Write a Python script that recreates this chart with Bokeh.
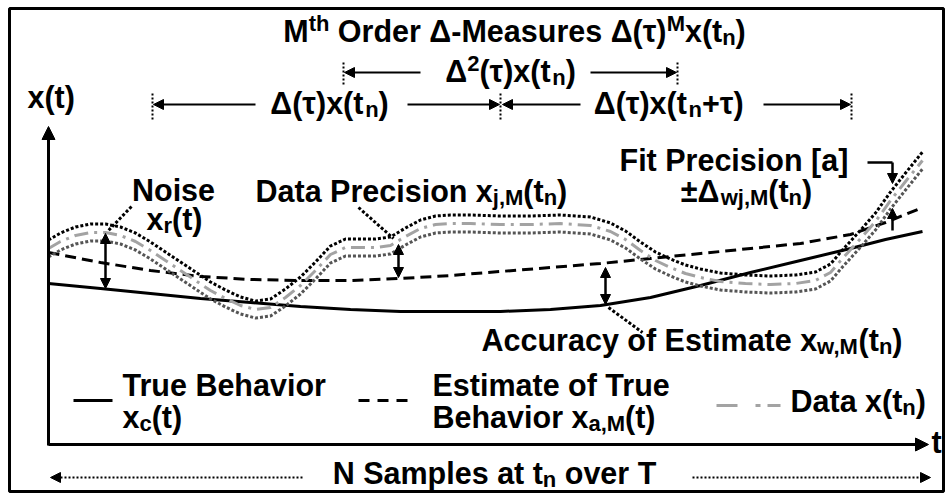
from bokeh.plotting import figure
from bokeh.models import ColumnDataSource, Range1d, Arrow, NormalHead
from bokeh.core.properties import value, field
from bokeh.embed import file_html
from bokeh.resources import INLINE

# ---------------- data (diagram coordinates: t to the right, x(t) drawn on a reversed scale) ----------
DATA_T = [48, 60, 75, 90, 105, 120, 135, 150, 165, 180, 195, 210, 225, 240, 255, 270, 285, 300,
          315, 330, 345, 360, 375, 390, 405, 420, 435, 450, 470, 500, 530, 560, 590, 610, 625,
          640, 655, 670, 685, 700, 720, 745, 770, 795, 815, 830, 842, 852, 862, 875, 890, 905, 922]
DATA_X = [248, 241, 235, 232, 232, 235, 241, 250, 260, 270, 280, 290, 298, 305, 309, 307, 297, 285,
          270, 254, 247, 247, 247, 245, 236, 228, 224, 223, 223, 224, 224, 223, 225, 231, 239,
          250, 260, 267, 273, 277, 281, 283, 284, 283, 280, 272, 258, 247, 236, 221, 200, 181, 160]
PRECISION = 8.5

CURVE_T = [48, 100, 150, 200, 250, 300, 350, 400, 450, 500, 550, 600, 650, 700, 750, 800, 850, 885, 922]
TRUE_X = [283, 288, 293, 298, 302, 306, 309, 311, 311, 311, 309, 305, 297, 285, 272, 260, 248, 239, 231]
EST_X = [252, 262, 270, 276, 279, 280, 280, 278, 275, 271, 267, 263, 258, 253, 248, 243, 234, 222, 207]

FS = 30.5
SUB = 0.72
BASE_SHIFT = -11
N, SB, SP = "n", "sub", "sup"

TITLE = [("M", N), ("th", SP), (" Order \u0394-Measures \u0394(\u03c4)", N), ("M", SP), ("x(t", N), ("n", SB), (")", N)]
D2 = [("\u0394", N), ("2", SP), ("(\u03c4)x(t", N), ("n", SB), (")", N)]
D1 = [("\u0394(\u03c4)x(t", N), ("n", SB), (")", N)]
D1B = [("\u0394(\u03c4)x(t", N), ("n", SB), ("+\u03c4)", N)]
XT = [("x(t)", N)]
TL = [("t", N)]
NOISE1 = [("Noise", N)]
NOISE2 = [("x", N), ("r", SB), ("(t)", N)]
DP = [("Data Precision x", N), ("j,M", SB), ("(t", N), ("n", SB), (")", N)]
FP1 = [("Fit Precision [a]", N)]
FP2 = [("\u00b1\u0394", N), ("wj,M", SB), ("(t", N), ("n", SB), (")", N)]
ACC = [("Accuracy of Estimate x", N), ("w,M", SB), ("(t", N), ("n", SB), (")", N)]
L1A = [("True Behavior", N)]
L1B = [("x", N), ("c", SB), ("(t)", N)]
L2A = [("Estimate of True", N)]
L2B = [("Behavior x", N), ("a,M", SB), ("(t)", N)]
L3 = [("Data x(t", N), ("n", SB), (")", N)]
NS = [("N Samples at t", N), ("n", SB), (" over T", N)]

# label placement: (segments, x, baseline, anchor)
LABELS = [
    (TITLE, 514, 41, "center"), (D2, 510, 81, "center"), (D1, 329, 113, "center"),
    (D1B, 669, 113, "center"), (XT, 27, 107, "left"), (TL, 931, 452, "left"),
    (NOISE1, 173, 200, "center"), (NOISE2, 174, 229, "center"), (DP, 255, 201, "left"),
    (FP1, 619, 170, "left"), (FP2, 746, 201, "center"), (ACC, 481, 350, "left"),
    (L1A, 122, 395, "left"), (L1B, 122, 427, "left"), (L2A, 432, 395, "left"),
    (L2B, 432, 427, "left"), (L3, 790, 411, "left"), (NS, 494, 483, "center"),
]

# Arial/Liberation Sans Bold advance widths (em)
W = {" ": .278, "(": .333, ")": .333, "+": .584, ",": .278, "-": .333, "[": .333, "]": .333,
     "2": .556, "\u00b1": .584, "\u0394": .722, "\u03c4": .5,
     "A": .722, "B": .722, "D": .722, "E": .667, "F": .611, "M": .833, "N": .722, "O": .778,
     "P": .667, "S": .667, "T": .611,
     "a": .556, "c": .556, "e": .556, "h": .611, "i": .278, "j": .278, "l": .278, "m": .889,
     "n": .611, "o": .611, "p": .611, "r": .389, "s": .556, "t": .333, "u": .611, "v": .556,
     "w": .778, "x": .556, "y": .556, "f": .333}


def tw(s, f):
    return sum(W.get(c, .556) for c in s) * f


def layout(segs, x, y, anchor):
    total = sum(tw(s, FS if k == N else FS * SUB) for s, k in segs)
    cx = x if anchor == "left" else x - total / 2
    rows = []
    for s, k in segs:
        f = FS if k == N else FS * SUB
        dy = {N: 0, SB: 0.22 * FS, SP: -0.24 * FS}[k]
        body = s.strip(" ")
        lead = len(s) - len(s.lstrip(" "))
        rows.append((cx + lead * W[" "] * f, y + dy + BASE_SHIFT, body, "%.1fpx" % f))
        cx += tw(s, f)
    return rows


p = figure(width=952, height=499, x_range=Range1d(9, 943), y_range=Range1d(491, 8),
           output_backend="svg", toolbar_location=None, x_axis_location=None, y_axis_location=None,
           min_border_left=9, min_border_right=9, min_border_top=8, min_border_bottom=8)
p.grid.visible = False
p.outline_line_color = "black"
p.outline_line_width = 3
p.background_fill_color = "white"
p.border_fill_color = "white"

upper = [v - PRECISION for v in DATA_X]
lower = [v + PRECISION for v in DATA_X]

p.line(CURVE_T, TRUE_X, line_color="black", line_width=3)
p.line(CURVE_T, EST_X, line_color="black", line_width=3, line_dash="11 6")
p.line(DATA_T, lower, line_color="#555555", line_width=3, line_dash="3 2")
p.line(DATA_T, upper, line_color="black", line_width=3, line_dash="3 2")
p.line(DATA_T, DATA_X, line_color="#a3a3a3", line_width=3, line_dash="14 6 3 6")

# legend samples
LEG_X0 = [73, 358]
LEG_X1 = [112, 413]
LEG_Y = [400, 400]
p.segment(x0=[LEG_X0[0]], y0=[LEG_Y[0]], x1=[LEG_X1[0]], y1=[LEG_Y[0]], line_color="black", line_width=3)
p.segment(x0=[LEG_X0[1]], y0=[LEG_Y[1]], x1=[LEG_X1[1]], y1=[LEG_Y[1]], line_color="black", line_width=3,
          line_dash="11 8")
p.segment(x0=[716], y0=[405], x1=[780], y1=[405], line_color="#a3a3a3", line_width=3, line_dash="21 18 5 7")

# dotted ticks and leader lines
TICK_T = [343, 677, 152, 500, 851]
TICK_Y0 = [62, 62, 93, 93, 93]
TICK_Y1 = [84, 84, 119, 119, 119]
p.segment(x0=TICK_T, y0=TICK_Y0, x1=TICK_T, y1=TICK_Y1, line_color="black", line_width=2, line_dash="2 2")
LEAD_X0 = [131, 358, 608]
LEAD_Y0 = [206, 207, 307]
LEAD_X1 = [108, 393, 642]
LEAD_Y1 = [230, 238, 332]
p.segment(x0=LEAD_X0, y0=LEAD_Y0, x1=LEAD_X1, y1=LEAD_Y1, line_color="black", line_width=3, line_dash="3 2")
p.line([867, 892], [162, 162], line_color="black", line_width=2.5)


def arrows(x0, y0, x1, y1, size, width, dash="solid", both=False):
    src = ColumnDataSource(dict(x0=x0, y0=y0, x1=x1, y1=y1))
    kw = {}
    if both:
        kw["start"] = NormalHead(size=size, fill_color="black", line_color="black", line_width=1)
    else:
        kw["start"] = None
    a = Arrow(end=NormalHead(size=size, fill_color="black", line_color="black", line_width=1),
              x_start="x0", y_start="y0", x_end="x1", y_end="y1", source=src,
              line_color="black", line_width=width, line_dash=dash, **kw)
    p.add_layout(a)


# axes
arrows([48, 48], [445, 444], [48, 928], [126, 444], 13, 3)
# delta-measure span arrows
arrows([420, 590, 255, 407, 580, 763], [72, 72, 104, 104, 104, 104],
       [344, 676, 153, 499, 502, 850], [72, 72, 104, 104, 104, 104], 10, 2)
# N samples arrows
arrows([302, 692], [477, 477], [50, 930], [477, 477], 10, 2, dash="2 2")
# double-headed measures
arrows([105, 398, 605], [233, 244, 267], [105, 398, 605], [288, 277, 304], 10, 2.5, both=True)
# fit precision
arrows([892, 892], [162, 230], [892, 892], [183, 208], 10, 2.5)

rows = []
for segs, x, y, anchor in LABELS:
    rows += layout(segs, x, y, anchor)
src = ColumnDataSource(dict(x=[r[0] for r in rows], y=[r[1] for r in rows],
                            text=[r[2] for r in rows], fs=[r[3] for r in rows]))
p.text(x="x", y="y", text="text", source=src, text_font_size=field("fs"),
       text_font=value("Liberation Sans"), text_font_style="bold", text_color="black",
       text_align="left", text_baseline="alphabetic")

open("out.html", "w").write(file_html(p, INLINE))
